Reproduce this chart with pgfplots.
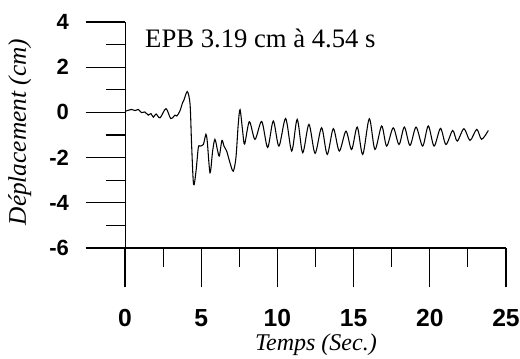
\documentclass[border=0pt]{standalone}
\usepackage{fontspec}
\setmainfont{Liberation Serif}
\newfontfamily\arial{Liberation Sans}
\usepackage{pgfplots}
\pgfplotsset{compat=1.18}
\begin{document}
\begin{tikzpicture}
\useasboundingbox (-93.75pt,-82.5pt) rectangle (296.25pt,186pt);
\begin{axis}[
  at={(0,0)}, anchor=south west,
  scale only axis, width=285.75pt, height=169.5pt,
  xmin=0, xmax=25, ymin=-6, ymax=4,
  axis lines=left,
  axis line style={-},
  x axis line style={line width=1.1pt},
  y axis line style={line width=0.6pt},
  xtick={0,5,10,15,20,25},
  xticklabels={0,5,10,15,20,25},
  ytick={-6,-4,-2,0,2,4},
  yticklabels={-6,-4,-2,0,2,4},
  minor xtick={2.5,7.5,12.5,17.5,22.5},
  minor ytick={-5,-3,-1,1,3},
  tick align=outside,
  major tick length=29.5pt,
  minor tick length=14pt,
  every tick/.style={black, line width=0.8pt},
  xticklabel style={font=\arial\bfseries\fontsize{18.5}{21}\selectfont, anchor=base, text height=13pt, yshift=-29pt},
  yticklabel style={font=\arial\bfseries\fontsize{16.5}{19}\selectfont, xshift=-9pt},
  xlabel={\itshape Temps (Sec.)},
  ylabel={\itshape Déplacement (cm)},
  xlabel style={font=\fontsize{18}{21}\selectfont, at={(axis description cs:0.501,-0.429)}, anchor=center},
  ylabel style={font=\fontsize{19}{22}\selectfont, at={(axis description cs:-0.276,0.513)}, anchor=center},
  clip=false,
]
\addplot[black, line width=0.8pt, smooth, tension=0.5] coordinates {
(0,0.05) (0.44,0.13) (0.66,0.08) (0.88,0.13) (1.09,-0.01) (1.3,0.02) (1.53,-0.12)
(1.7,-0.05) (1.86,-0.21) (2.04,-0.07) (2.3,-0.24) (2.69,0.17) (3.0,-0.27) (3.28,-0.12)
(3.4,-0.16) (3.6,0.06) (3.78,0.43) (3.87,0.55) (4.09,0.92) (4.27,0.35) (4.37,-1.42)
(4.5,-3.19) (4.66,-2.6) (4.81,-1.56) (4.92,-1.49) (5.14,-1.42) (5.31,-0.97) (5.4,-1.3)
(5.58,-2.67) (5.75,-1.71) (5.9,-1.19) (6.06,-1.64) (6.19,-1.93) (6.36,-1.24) (6.5,-1.5)
(6.67,-1.71) (6.89,-2.23) (7.1,-2.6) (7.28,-2.0) (7.43,-0.53) (7.55,0.12) (7.72,-0.83)
(7.85,-1.4) (8.16,-0.41) (8.53,-1.19) (8.97,-0.4) (9.36,-1.55) (9.73,-0.38) (10.1,-1.49)
(10.54,-0.27) (10.94,-1.71) (11.3,-0.31) (11.66,-1.78) (12.07,-0.53) (12.47,-1.81)
(12.9,-0.68) (13.27,-1.86) (13.67,-0.72) (14.06,-1.71) (14.5,-0.83) (14.87,-1.64)
(15.24,-0.65) (15.6,-1.86) (16.03,-0.28) (16.4,-1.64) (16.84,-0.6) (17.17,-1.49)
(17.6,-0.68) (17.98,-1.42) (18.33,-0.65) (18.7,-1.46) (19.1,-0.65) (19.53,-1.49)
(19.9,-0.6) (20.28,-1.49) (20.7,-0.71) (21.06,-1.42) (21.5,-0.8) (21.8,-1.27)
(22.24,-0.72) (22.64,-1.24) (23.08,-0.75) (23.4,-1.19) (23.84,-0.8)
};
\node[anchor=base west, font=\fontsize{20}{23}\selectfont, inner sep=0pt] at (axis cs:1.31,2.89) {EPB 3.19 cm à 4.54 s};
\end{axis}
\end{tikzpicture}
\end{document}
